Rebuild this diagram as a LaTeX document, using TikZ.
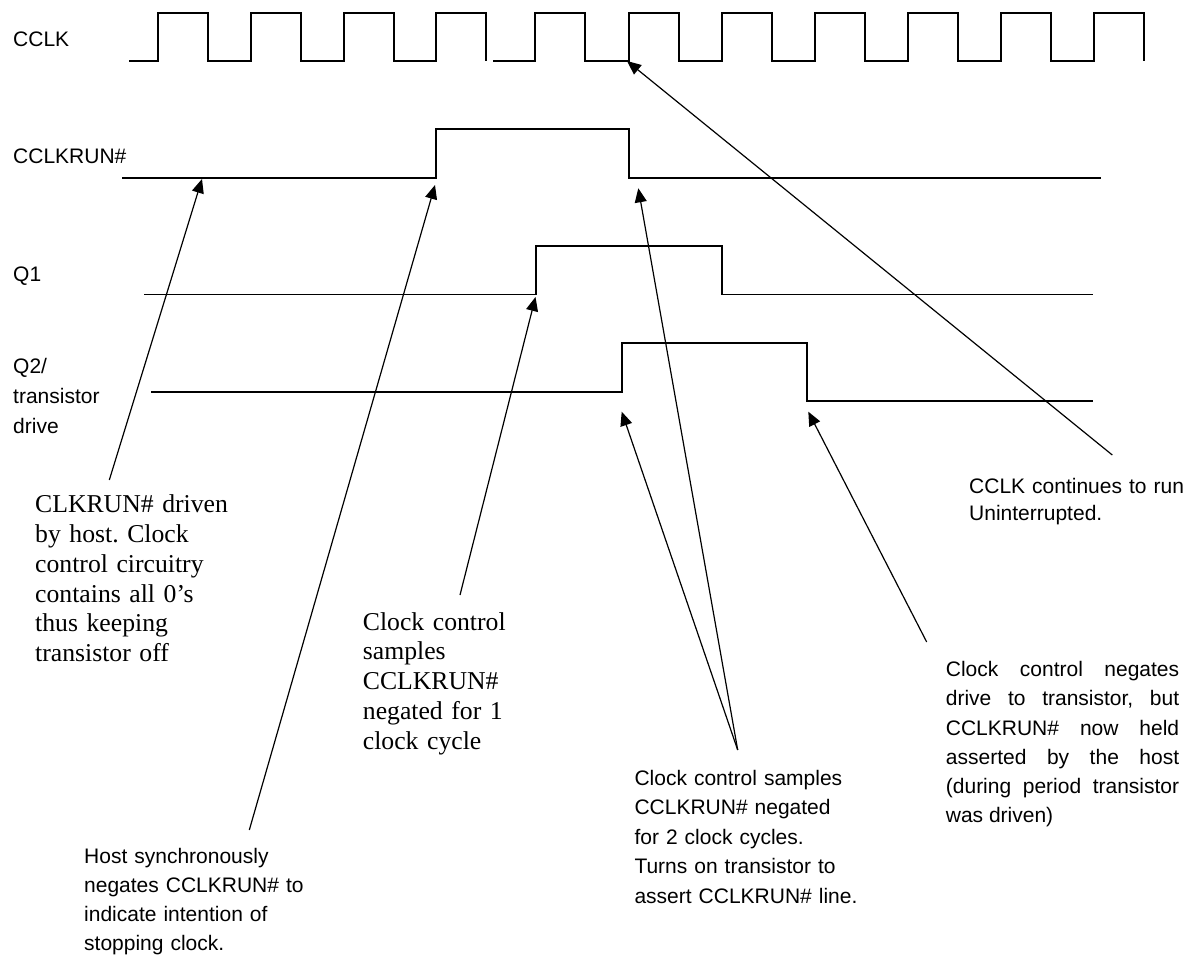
\documentclass[tikz,border=0pt]{standalone}
\usepackage{fontspec}
\setmainfont{Liberation Serif}
\newfontfamily\arialfont{Liberation Sans}
\usetikzlibrary{arrows.meta}
\tolerance=10000
\frenchspacing

\begin{document}
\begin{tikzpicture}[
		x=1pt, y=-1pt,
		sigtexts/.style = {anchor=base west, inner sep=0pt, text=black, font=\arialfont\fontsize{21}{29.2}\selectfont},
		sanstexts/.style = {sigtexts, text width=#1, align=left},
		seriftexts/.style = {anchor=base west, inner sep=0pt, text=black, text width=#1, align=left, font=\fontsize{25.7}{29.8}\selectfont},
		wave/.style = {draw=black, line width=1.8pt},
		callout/.style = {draw=black, line width=1.2pt, -{Triangle[length=14pt, width=12pt]}},
		]
		\useasboundingbox (0,0) rectangle (1189,958);

		% signal names
		\node [sigtexts] (cclklabel) at (13,46.7) {CCLK};
		\node [sigtexts] (runlabel) at (13,163.3) {CCLKRUN\#};
		\node [sigtexts] (q1label) at (13,281) {Q1};
		\node [sanstexts=120pt, font=\arialfont\fontsize{21}{30}\selectfont] (q2label) at (13,373.3) {Q2/\\transistor\\drive};

		% waveforms
		\draw[wave] (129.3,61) foreach \r in {158.3,251,343.7,436} { -- (\r,61) -- (\r,13) -- (\r+50,13) -- (\r+50,61) };
		\draw[wave] (493.3,61) foreach \r in {535,629,722,815,907.6,1000.6,1093.6} { -- (\r,61) -- (\r,13) -- (\r+50,13) -- (\r+50,61) };
		\draw[wave] (122,177.7) -- (436,177.7) -- (436,129.3) -- (629,129.3) -- (629,177.7) -- (1100.7,177.7);
		\draw[wave] (144,294.5) -- (536,294.5) -- (536,245.7) -- (721.7,245.7) -- (721.7,294.5) -- (1093,294.5);
		\draw[wave] (151,391.7) -- (621.7,391.7) -- (621.7,343.3) -- (807.3,343.3) -- (807.3,401) -- (1093,401);

		% notes
		\node [seriftexts=240pt] (drivennote) at (35,512.7) {CLKRUN\# driven\\by host. Clock\\control circuitry\\contains all 0’s\\thus keeping\\transistor off};
		\node [seriftexts=200pt] (onecyclenote) at (362.7,630) {Clock control\\samples\\CCLKRUN\#\\negated for 1\\clock cycle};
		\node [sanstexts=260pt] (hostnote) at (84,863.3) {Host synchronously\\negates CCLKRUN\# to\\indicate intention of\\stopping clock.};
		\node [sanstexts=280pt, font=\arialfont\fontsize{21}{29.5}\selectfont] (twocyclenote) at (634.3,785) {Clock control samples\\CCLKRUN\# negated\\for 2 clock cycles.\\Turns on transistor to\\assert CCLKRUN\# line.};
		\node [sigtexts, text width=233.3pt, align=justify] (negatenote) at (945.7,676.7) {Clock control negates\linebreak drive to transistor, but\linebreak CCLKRUN\# now held\linebreak asserted by the host\linebreak (during period transistor\linebreak was driven)};
		\node [sanstexts=230pt, font=\arialfont\fontsize{21}{27}\selectfont] (runnote) at (969,493.3) {CCLK continues to run\\Uninterrupted.};

		% arrow ends
		\coordinate (driventail) at (109.3,480);
		\coordinate (driventip) at (202,179);
		\coordinate (hosttail) at (249.3,830);
		\coordinate (hosttip) at (435,185);
		\coordinate (onecycletail) at (460,595);
		\coordinate (onecycletip) at (535.5,297);
		\coordinate (twocycletail) at (737.7,750);
		\coordinate (falltip) at (638.3,188.3);
		\coordinate (q2risetip) at (621.7,411.7);
		\coordinate (negatetail) at (926.7,642);
		\coordinate (q2falltip) at (808.3,411.7);
		\coordinate (runtail) at (1112.3,455);
		\coordinate (runtip) at (627,61);

		\draw[callout] (driventail) -- (driventip);
		\draw[callout] (hosttail) -- (hosttip);
		\draw[callout] (onecycletail) -- (onecycletip);
		\draw[callout] (twocycletail) -- (falltip);
		\draw[callout] (twocycletail) -- (q2risetip);
		\draw[callout] (negatetail) -- (q2falltip);
		\draw[callout] (runtail) -- (runtip);

\end{tikzpicture}
\end{document}
